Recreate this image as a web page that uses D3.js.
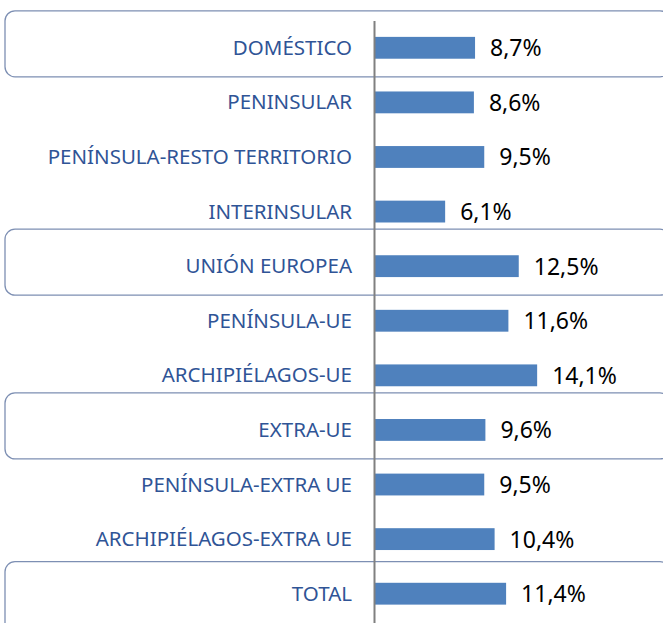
<!DOCTYPE html>
<html>
<head>
<meta charset="utf-8">
<script src="https://cdn.jsdelivr.net/npm/d3@7"></script>
<style>
    body { margin: 0; background: #fff; }
</style>
</head>
<body>
<div id="chart"></div>
<script>
const categories = [
    'DOMÉSTICO',
    'PENINSULAR',
    'PENÍNSULA-RESTO TERRITORIO',
    'INTERINSULAR',
    'UNIÓN EUROPEA',
    'PENÍNSULA-UE',
    'ARCHIPIÉLAGOS-UE',
    'EXTRA-UE',
    'PENÍNSULA-EXTRA UE',
    'ARCHIPIÉLAGOS-EXTRA UE',
    'TOTAL',
];
const values = [8.7, 8.6, 9.5, 6.1, 12.5, 11.6, 14.1, 9.6, 9.5, 10.4, 11.4];
// rows that get a rounded frame (group headers)
const groupRows = ['DOMÉSTICO', 'UNIÓN EUROPEA', 'EXTRA-UE', 'TOTAL'];

const width = 663;
const height = 623;
const axisX = 375;

const data = categories.map((c, i) => ({ cat: c, val: values[i] }));

const svg = d3
    .select('#chart')
    .append('svg')
    .attr('width', width)
    .attr('height', height)
    .attr('viewBox', [0, 0, width, height]);

const y = d3
    .scaleBand()
    .domain(categories)
    .range([20.5, 621])
    .paddingInner(0.6)
    .paddingOuter(0.3);

const x = d3.scaleLinear().domain([0, 20]).range([axisX, axisX + 230]);

const mid = (c) => y(c) + y.bandwidth() / 2;

// group frames, open to the right
svg.append('g')
    .selectAll('rect')
    .data(groupRows)
    .join('rect')
    .attr('x', 5)
    .attr('y', (d) => mid(d) - (d === 'TOTAL' ? 32 : 37))
    .attr('width', 665)
    .attr('height', (d) => (d === 'TOTAL' ? 200 : 66))
    .attr('rx', 10)
    .attr('fill', 'none')
    .attr('stroke', '#7d8fb3')
    .attr('stroke-width', 1.3);

// bars
svg.append('g')
    .attr('fill', '#4f81bd')
    .selectAll('rect')
    .data(data)
    .join('rect')
    .attr('x', x(0))
    .attr('y', (d) => y(d.cat))
    .attr('height', y.bandwidth())
    .attr('width', (d) => x(d.val) - x(0));

// vertical axis line
svg.append('line')
    .attr('x1', axisX - 0.5)
    .attr('x2', axisX - 0.5)
    .attr('y1', 21)
    .attr('y2', height)
    .attr('stroke', '#808080')
    .attr('stroke-width', 2);

// category labels
svg.append('g')
    .selectAll('text')
    .data(data)
    .join('text')
    .attr('x', axisX - 23)
    .attr('y', (d) => mid(d.cat) + 7)
    .attr('text-anchor', 'end')
    .attr('fill', '#2f5496')
    .style('font-family', '"Noto Sans", sans-serif')
    .style('font-size', '20.5px')
    .text((d) => d.cat);

// value labels
const fmt = (v) => v.toFixed(1).replace('.', ',') + '%';

svg.append('g')
    .selectAll('text')
    .data(data)
    .join('text')
    .attr('x', (d) => x(d.val) + 15)
    .attr('y', (d) => mid(d.cat) + 8.5)
    .attr('fill', '#000')
    .style('font-family', '"Noto Sans", sans-serif')
    .style('font-size', '23px')
    .text((d) => fmt(d.val));
</script>
</body>
</html>
